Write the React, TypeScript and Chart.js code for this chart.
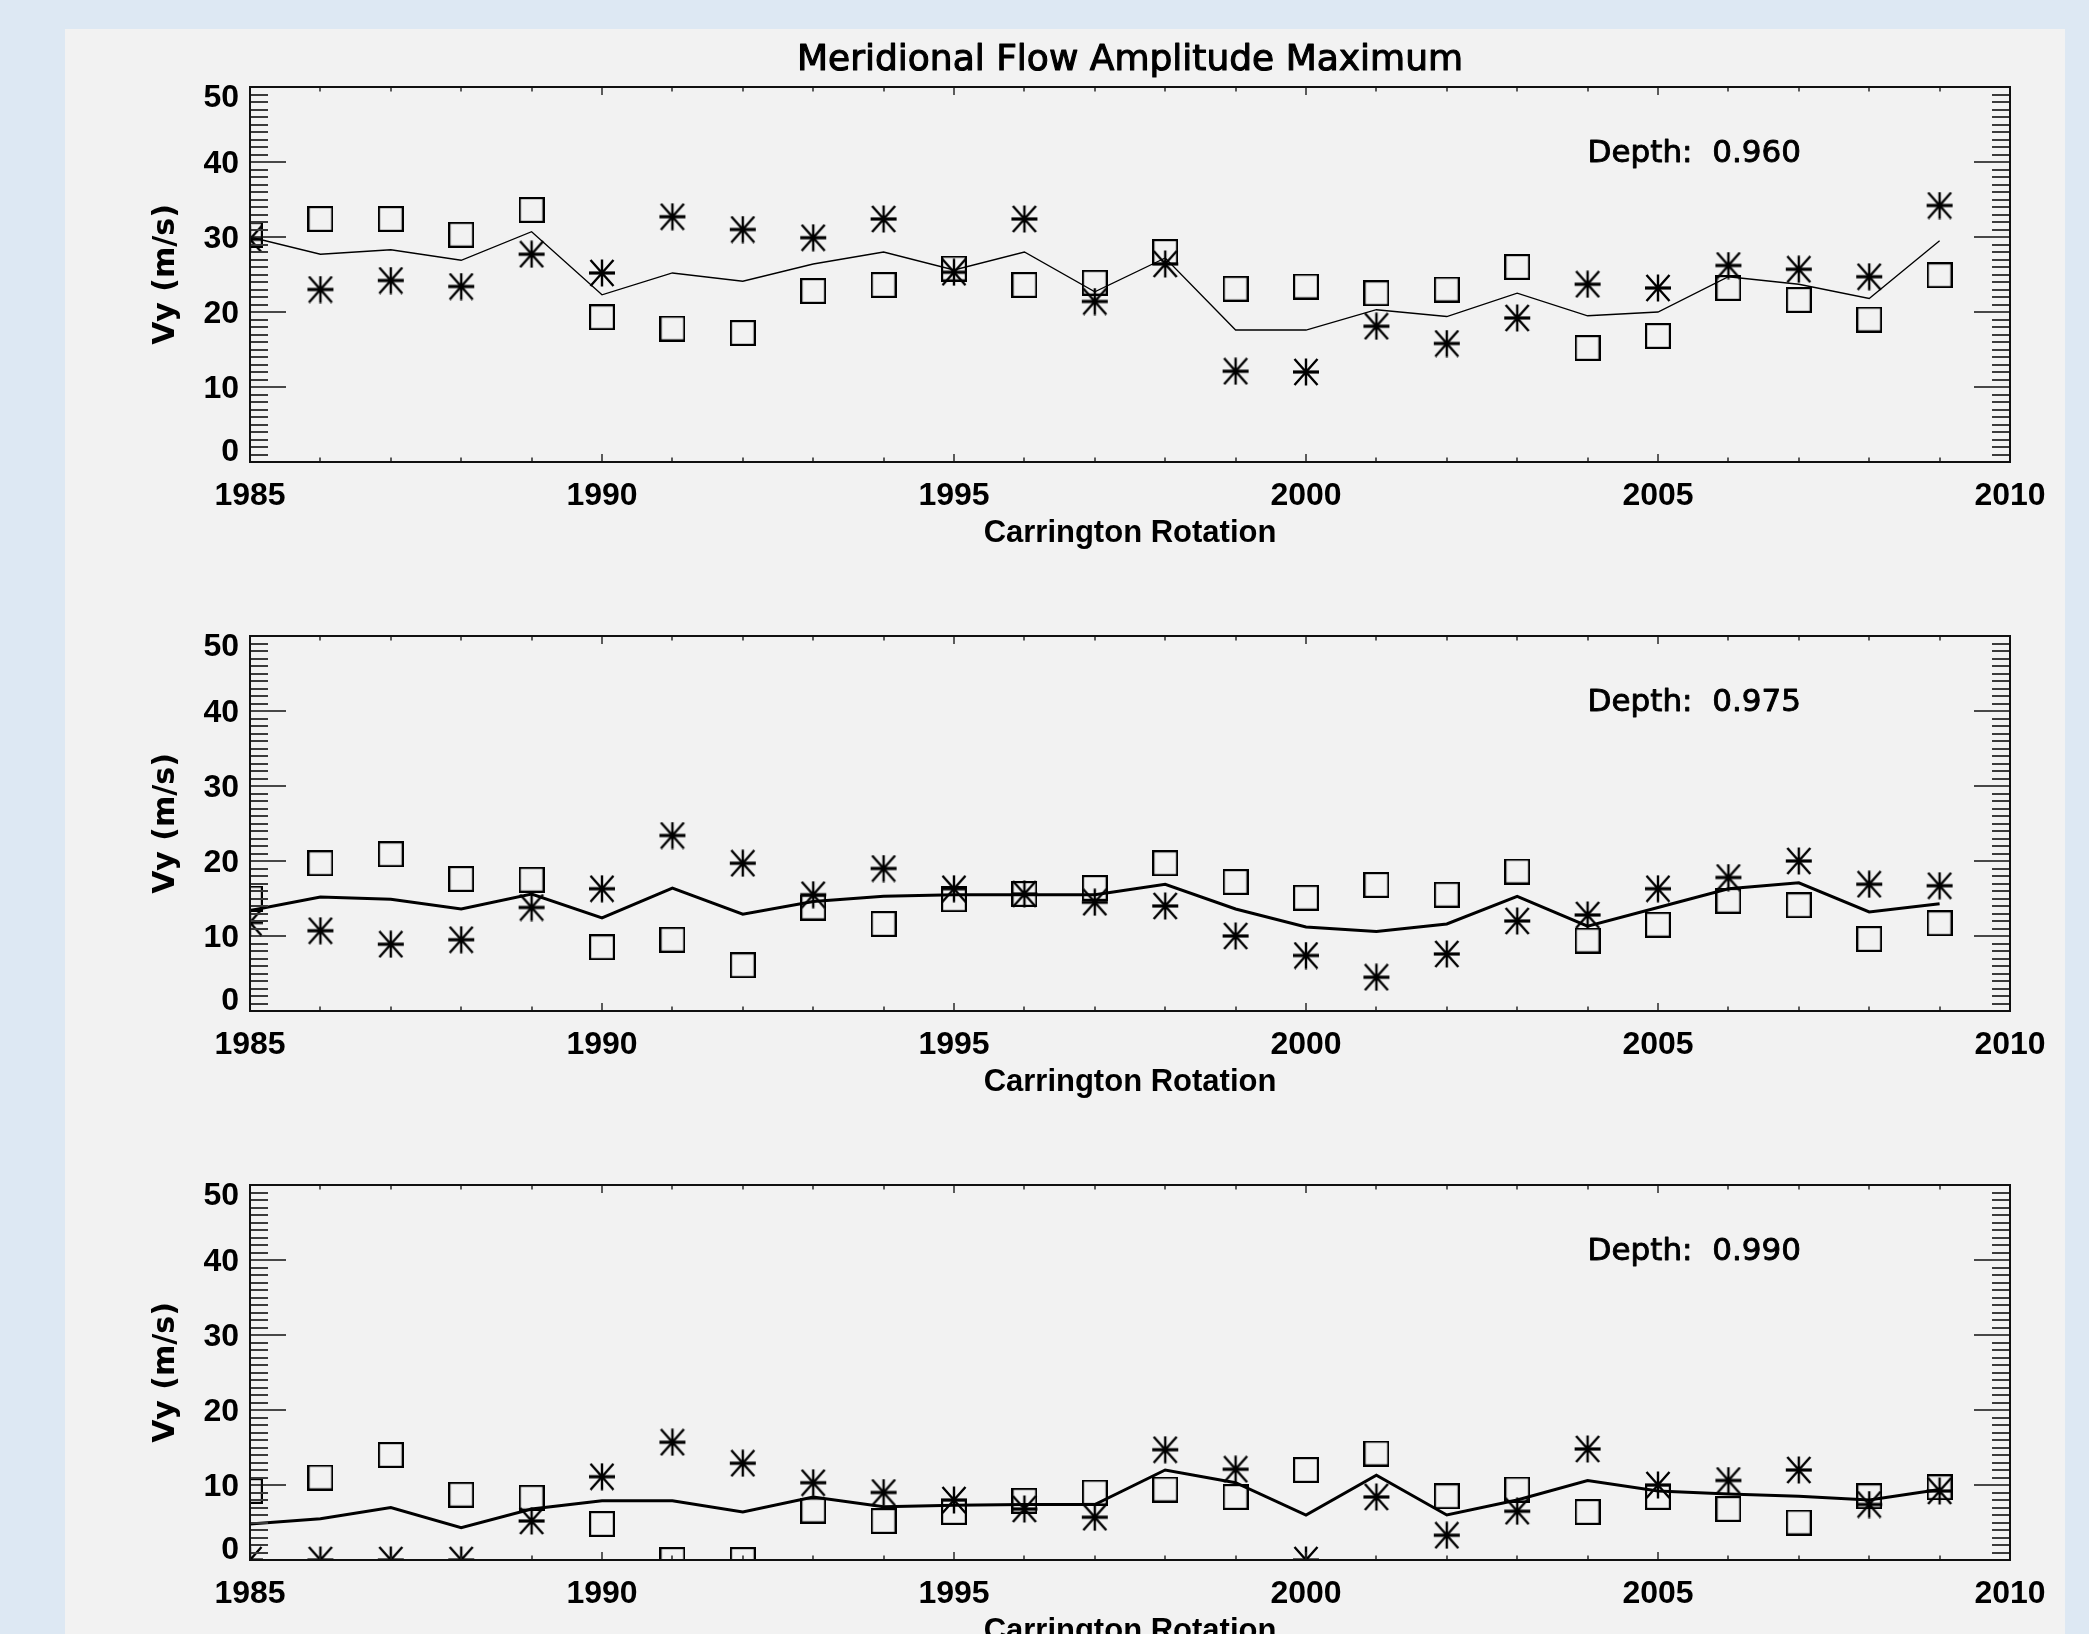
import { useEffect, useRef } from "react";
import { Chart, registerables } from "chart.js";

Chart.register(...registerables);

// Carrington rotation index (x) for every sample
const YEARS = [
  1985, 1986, 1987, 1988, 1989, 1990, 1991, 1992, 1993, 1994, 1995, 1996, 1997,
  1998, 1999, 2000, 2001, 2002, 2003, 2004, 2005, 2006, 2007, 2008, 2009,
];

// Depth r/R = 0.960
const SQUARE_0960 = [30.3, 32.4, 32.4, 30.3, 33.6, 19.3, 17.8, 17.2, 22.8, 23.6, 25.8, 23.6, 23.9, 28.0, 23.1, 23.4, 22.5, 23.0, 26.0, 15.2, 16.8, 23.2, 21.6, 19.0, 24.9];
const STAR_0960 = [29.7, 23.0, 24.2, 23.4, 27.7, 25.2, 32.7, 31.0, 29.9, 32.4, 25.3, 32.4, 21.4, 26.4, 12.1, 12.0, 18.1, 15.8, 19.2, 23.7, 23.2, 26.2, 25.7, 24.7, 34.2];
const MEAN_0960 = [30.0, 27.7, 28.3, 26.9, 30.7, 22.3, 25.2, 24.1, 26.4, 28.0, 25.6, 28.0, 22.7, 27.2, 17.6, 17.6, 20.3, 19.4, 22.5, 19.5, 20.0, 24.7, 23.7, 21.8, 29.5];

// Depth r/R = 0.975
const SQUARE_0975 = [15.0, 19.7, 20.9, 17.6, 17.5, 8.5, 9.5, 6.1, 13.8, 11.6, 14.9, 15.6, 16.4, 19.7, 17.2, 15.1, 16.8, 15.5, 18.6, 9.4, 11.5, 14.7, 14.1, 9.6, 11.7];
const STAR_0975 = [11.8, 10.7, 8.9, 9.5, 13.8, 16.3, 23.4, 19.7, 15.5, 19.0, 16.3, 15.6, 14.5, 14.0, 10.0, 7.4, 4.5, 7.6, 12.0, 12.8, 16.3, 17.8, 20.0, 16.9, 16.7];
const MEAN_0975 = [13.4, 15.2, 14.9, 13.6, 15.6, 12.4, 16.4, 12.9, 14.6, 15.3, 15.5, 15.5, 15.5, 16.9, 13.6, 11.2, 10.6, 11.6, 15.3, 11.3, 13.8, 16.3, 17.1, 13.2, 14.3];

// Depth r/R = 0.990
const SQUARE_0990 = [9.2, 11.0, 14.0, 8.7, 8.3, 4.8, 0.0, 0.0, 6.6, 5.2, 6.4, 7.9, 9.0, 9.4, 8.4, 12.0, 14.2, 8.5, 9.4, 6.4, 8.4, 6.8, 5.0, 8.5, 9.7];
const STAR_0990 = [0.0, 0.0, 0.0, 0.0, 5.2, 11.1, 15.7, 12.9, 10.3, 9.0, 8.0, 6.8, 5.7, 14.7, 12.1, 0.0, 8.4, 3.3, 6.5, 14.8, 10.0, 10.6, 12.0, 7.4, 9.2];
const MEAN_0990 = [4.8, 5.5, 7.0, 4.3, 6.8, 7.9, 7.9, 6.4, 8.4, 7.1, 7.3, 7.4, 7.4, 12.0, 10.3, 6.0, 11.3, 6.0, 8.0, 10.6, 9.2, 8.8, 8.5, 8.0, 9.4];

const DEPTHS = ["0.960", "0.975", "0.990"];
const Y_TICK_LABELS = [0, 10, 20, 30, 40, 50];
const X_RANGE = [1985, 2010];
const Y_RANGE = [0, 50];
const X_MAJOR_STEP = 5;
const Y_MAJOR_STEP = 10;
// anchor of the "Depth:" annotation, in data units
const DEPTH_LABEL_AT = { x: 2004, y: 40 };

const TITLE = "Meridional Flow Amplitude Maximum";
const X_TITLE = "Carrington Rotation";
const Y_TITLE = "Vy (m/s)";

const PANEL_H = 549;
const CANVAS_W = 2000;

const PANELS = [
  { depth: DEPTHS[0], square: SQUARE_0960, star: STAR_0960, mean: MEAN_0960, lineWidth: 1.3, title: true },
  { depth: DEPTHS[1], square: SQUARE_0975, star: STAR_0975, mean: MEAN_0975, lineWidth: 3, title: false },
  { depth: DEPTHS[2], square: SQUARE_0990, star: STAR_0990, mean: MEAN_0990, lineWidth: 3, title: false },
];

let symbolCache: { square: HTMLCanvasElement; star: HTMLCanvasElement } | null = null;

// IDL-style plot symbols: open square (psym=6) and asterisk (psym=2)
function symbols() {
  if (symbolCache) return symbolCache;
  const square = document.createElement("canvas");
  square.width = 26;
  square.height = 26;
  const sq = square.getContext("2d")!;
  sq.strokeStyle = "#000";
  sq.lineWidth = 2.2;
  sq.strokeRect(1.1, 1.1, 23.8, 23.8);

  const star = document.createElement("canvas");
  star.width = 28;
  star.height = 28;
  const st = star.getContext("2d")!;
  st.strokeStyle = "#000";
  st.lineCap = "butt";
  st.lineWidth = 2.4;
  st.beginPath();
  st.moveTo(14, 0.5);
  st.lineTo(14, 27.5);
  st.moveTo(2.5, 1);
  st.lineTo(25.5, 27);
  st.moveTo(25.5, 1);
  st.lineTo(2.5, 27);
  st.stroke();
  st.lineWidth = 3.2;
  st.beginPath();
  st.moveTo(1, 14);
  st.lineTo(27, 14);
  st.stroke();

  symbolCache = { square, star };
  return symbolCache;
}

// draws text with a hairline outline so the regular face reads a little heavier
function heavyText(ctx: CanvasRenderingContext2D, text: string, x: number, y: number, weight: number) {
  ctx.lineWidth = weight;
  ctx.strokeStyle = "#000";
  ctx.lineJoin = "round";
  ctx.strokeText(text, x, y);
  ctx.fillText(text, x, y);
}

const framePlugin = {
  id: "idlFrame",
  afterDraw(chart: any, _args: any, opts: any) {
    const { ctx, chartArea: a } = chart;
    const xs = chart.scales.x;
    const ys = chart.scales.y;
    ctx.save();

    // inward tick marks on all four sides
    ctx.strokeStyle = "#2a2a2a";
    for (let v = X_RANGE[0] + 1; v < X_RANGE[1]; v++) {
      const px = Math.round(xs.getPixelForValue(v));
      const major = v % X_MAJOR_STEP === 0;
      const len = major ? 8 : 4.5;
      ctx.lineWidth = 1.5;
      ctx.beginPath();
      ctx.moveTo(px, a.bottom);
      ctx.lineTo(px, a.bottom - len);
      ctx.moveTo(px, a.top);
      ctx.lineTo(px, a.top + len);
      ctx.stroke();
    }
    for (let v = Y_RANGE[0] + 1; v < Y_RANGE[1]; v++) {
      const py = Math.round(ys.getPixelForValue(v));
      const major = v % Y_MAJOR_STEP === 0;
      const len = major ? 36 : 18;
      ctx.lineWidth = major ? 1.3 : 2;
      ctx.strokeStyle = major ? "#111" : "#3a3a3a";
      ctx.beginPath();
      ctx.moveTo(a.left, py);
      ctx.lineTo(a.left + len, py);
      ctx.moveTo(a.right, py);
      ctx.lineTo(a.right - len, py);
      ctx.stroke();
    }

    // plot box
    ctx.strokeStyle = "#111";
    ctx.lineWidth = 2;
    ctx.strokeRect(a.left, a.top, a.right - a.left, a.bottom - a.top);

    // y tick labels, end labels kept inside the box height
    ctx.fillStyle = "#000";
    ctx.font = "bold 32px 'Liberation Sans'";
    ctx.textAlign = "right";
    ctx.textBaseline = "middle";
    for (const v of Y_TICK_LABELS) {
      const py = Math.min(Math.max(ys.getPixelForValue(v) + 2, a.top + 11), a.bottom - 10);
      ctx.fillText(String(v), a.left - 11, py);
    }

    // y axis title
    ctx.save();
    ctx.font = "bold 30px 'DejaVu Sans'";
    ctx.textAlign = "center";
    ctx.textBaseline = "middle";
    ctx.translate(101, (a.top + a.bottom) / 2);
    ctx.rotate(-Math.PI / 2);
    ctx.fillText(Y_TITLE, 0, 0);
    ctx.restore();

    // x axis title
    ctx.font = "bold 31px 'Liberation Sans'";
    ctx.textAlign = "center";
    ctx.textBaseline = "middle";
    ctx.fillText(X_TITLE, (a.left + a.right) / 2, a.bottom + 71);

    // depth annotation
    ctx.font = "31px 'DejaVu Sans'";
    ctx.textAlign = "left";
    ctx.textBaseline = "alphabetic";
    heavyText(
      ctx,
      `Depth:  ${opts.depth}`,
      xs.getPixelForValue(DEPTH_LABEL_AT.x),
      ys.getPixelForValue(DEPTH_LABEL_AT.y),
      0.9
    );

    // main title above the first panel
    if (opts.title) {
      ctx.font = "36px 'DejaVu Sans'";
      ctx.textAlign = "center";
      ctx.textBaseline = "alphabetic";
      heavyText(ctx, TITLE, (a.left + a.right) / 2, a.top - 17, 1.1);
    }
    ctx.restore();
  },
};

function points(values: number[]) {
  return YEARS.map((x, i) => ({ x, y: values[i] }));
}

function buildConfig(p: (typeof PANELS)[number]): any {
  const sym = symbols();
  return {
    type: "scatter",
    data: {
      datasets: [
        {
          data: points(p.mean),
          showLine: true,
          borderColor: "#000",
          backgroundColor: "#000",
          borderWidth: p.lineWidth,
          pointRadius: 0,
          tension: 0,
          clip: 0,
        },
        {
          data: points(p.square),
          pointStyle: sym.square,
          pointRadius: 13,
          borderColor: "#000",
          clip: 0,
        },
        {
          data: points(p.star),
          pointStyle: sym.star,
          pointRadius: 14,
          borderColor: "#000",
          clip: 0,
        },
      ],
    },
    options: {
      responsive: false,
      animation: false,
      events: [],
      layout: { padding: { left: 0, right: 55, top: 58, bottom: 0 } },
      plugins: {
        legend: { display: false },
        title: { display: false },
        tooltip: { enabled: false },
        idlFrame: { depth: p.depth, title: p.title },
      },
      scales: {
        x: {
          type: "linear",
          position: "bottom",
          min: X_RANGE[0],
          max: X_RANGE[1],
          grid: { display: false, drawTicks: false },
          border: { display: false },
          ticks: {
            stepSize: X_MAJOR_STEP,
            autoSkip: false,
            maxRotation: 0,
            padding: 15,
            color: "#000",
            font: { family: "'Liberation Sans'", weight: "bold", size: 32 },
            callback: (v: number) => String(v),
          },
          afterFit: (s: any) => {
            s.height = 116;
          },
        },
        y: {
          type: "linear",
          min: Y_RANGE[0],
          max: Y_RANGE[1],
          grid: { display: false, drawTicks: false },
          border: { display: false },
          ticks: { display: false },
          afterFit: (s: any) => {
            s.width = 185;
          },
        },
      },
    },
    plugins: [framePlugin],
  };
}

function Panel({ index }: { index: number }) {
  const ref = useRef<HTMLCanvasElement>(null);
  useEffect(() => {
    const chart = new Chart(ref.current!, buildConfig(PANELS[index]));
    return () => chart.destroy();
  }, [index]);
  return (
    <canvas
      ref={ref}
      width={CANVAS_W}
      height={PANEL_H}
      style={{ position: "absolute", left: 0, top: index * PANEL_H, width: CANVAS_W, height: PANEL_H }}
    />
  );
}

export default function App() {
  return (
    <div
      style={{
        position: "absolute",
        left: 0,
        top: 0,
        width: 2089,
        height: 1634,
        background: "#dde8f3",
        overflow: "hidden",
      }}
    >
      <div
        style={{
          position: "absolute",
          left: 65,
          top: 29,
          width: CANVAS_W,
          height: 1634 - 29,
          background: "#f2f2f2",
          overflow: "hidden",
        }}
      >
        {PANELS.map((_, i) => (
          <Panel key={i} index={i} />
        ))}
      </div>
    </div>
  );
}
